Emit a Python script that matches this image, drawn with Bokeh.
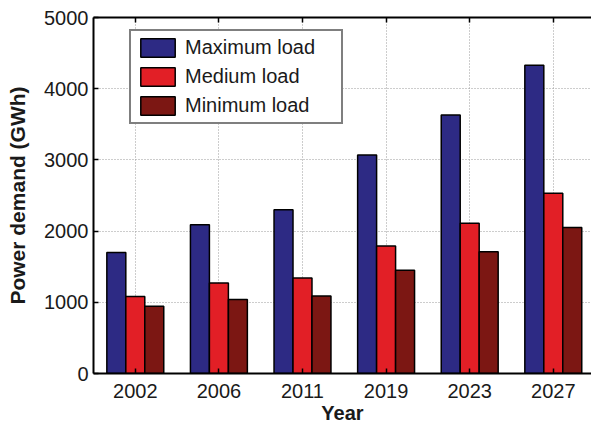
from bokeh.plotting import figure
from bokeh.models import (ColumnDataSource, Range1d, FixedTicker, LinearAxis,
                          Legend, LegendItem)
from bokeh.transform import dodge
from bokeh.embed import file_html
from bokeh.resources import INLINE

years = ["2002", "2006", "2011", "2019", "2023", "2027"]
max_load = [1700, 2090, 2300, 3070, 3630, 4330]
med_load = [1080, 1270, 1340, 1790, 2110, 2530]
min_load = [945, 1040, 1090, 1450, 1710, 2050]
y_ticks = [0, 1000, 2000, 3000, 4000, 5000]

xs = list(range(1, len(years) + 1))
src = ColumnDataSource(dict(x=xs, mx=max_load, md=med_load, mn=min_load))

FONT = "Liberation Sans"
BLUE = "#2d2a84"
RED = "#e21f26"
DARK = "#7c1713"

p = figure(width=591, height=426, output_backend="svg", toolbar_location=None,
           x_range=Range1d(0.5, 6.457), y_range=Range1d(0, 5000),
           min_border_left=93, min_border_right=0, min_border_top=17,
           min_border_bottom=0, background_fill_color="white",
           border_fill_color="white", outline_line_color=None)

bw = 0.227
r1 = p.vbar(x=dodge("x", -bw, range=p.x_range), top="mx", width=bw, source=src,
            fill_color=BLUE, line_color="black", line_width=1.5)
r2 = p.vbar(x="x", top="md", width=bw, source=src,
            fill_color=RED, line_color="black", line_width=1.5)
r3 = p.vbar(x=dodge("x", bw, range=p.x_range), top="mn", width=bw, source=src,
            fill_color=DARK, line_color="black", line_width=1.5)

# axes
xa = p.xaxis[0]
xa.ticker = FixedTicker(ticks=xs)
xa.major_label_overrides = {x: y for x, y in zip(xs, years)}
ya = p.yaxis[0]
ya.ticker = FixedTicker(ticks=y_ticks)
for ax in (xa, ya):
    ax.major_tick_in = 5
    ax.major_tick_out = 0
    ax.minor_tick_line_color = None
    ax.axis_line_width = 2
    ax.major_tick_line_width = 1.5
    ax.major_label_text_font = FONT
    ax.major_label_text_font_size = "20px"
    ax.major_label_text_color = "#1a1a1a"
    ax.axis_label_text_font = FONT
    ax.axis_label_text_font_style = "bold"
    ax.axis_label_text_color = "#1a1a1a"
xa.axis_label = "Year"
xa.axis_label_text_font_size = "20px"
xa.major_label_standoff = 10
xa.axis_label_standoff = 1
ya.axis_label = "Power demand (GWh)"
ya.axis_label_text_font_size = "21px"
ya.major_label_standoff = 5
ya.axis_label_standoff = 12

top = LinearAxis(ticker=FixedTicker(ticks=xs), major_tick_in=5, major_tick_out=0,
                 minor_tick_line_color=None, axis_line_width=2,
                 major_tick_line_width=1.5, major_label_text_font_size="0px",
                 major_label_standoff=0)
top.major_label_overrides = {x: "" for x in xs}
p.add_layout(top, "above")

# grid
p.xgrid.ticker = FixedTicker(ticks=xs)
p.ygrid.ticker = FixedTicker(ticks=y_ticks)
for g in (p.xgrid, p.ygrid):
    g.grid_line_color = "#9a9a9a"
    g.grid_line_dash = "1 2"
    g.grid_line_width = 1

legend = Legend(items=[LegendItem(label="Maximum load", renderers=[r1]),
                       LegendItem(label="Medium load", renderers=[r2]),
                       LegendItem(label="Minimum load", renderers=[r3])],
                location=(36, 249), glyph_width=43, glyph_height=23,
                spacing=6, padding=5, label_standoff=6, label_width=151,
                label_text_font=FONT, label_text_font_size="20px",
                label_text_color="#1a1a1a", border_line_color="black",
                border_line_width=2, background_fill_alpha=1)
p.add_layout(legend)

open("out.html", "w").write(file_html(p, INLINE))
